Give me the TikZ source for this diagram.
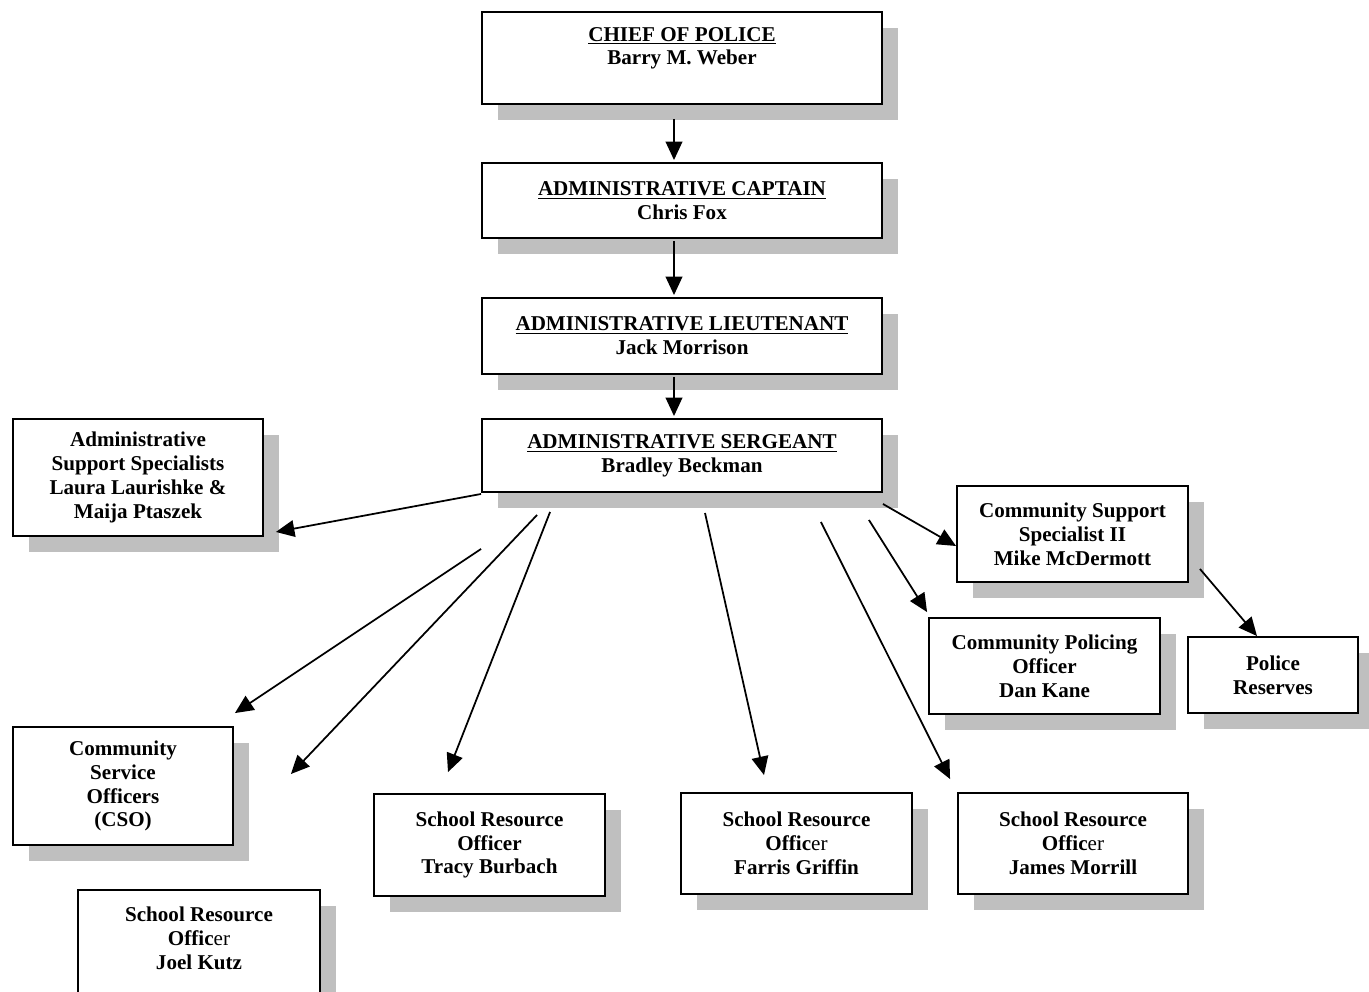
\documentclass[tikz,border=0pt]{standalone}
\usepackage{fontspec}
\setmainfont{Liberation Serif}
\usepackage{tikz}
\usetikzlibrary{arrows.meta,positioning,shadows}

\begin{document}
\begin{tikzpicture}[
    x=0.02cm, y=-0.02cm,
    every node/.style={font=\fontsize{12}{13.6}\selectfont\bfseries},
    unit/.style={rectangle, draw, line width=1.1pt, fill=white, inner sep=0pt, align=center,
        drop shadow={shadow xshift=0.32cm, shadow yshift=-0.32cm, fill=black!25, opacity=1}},
    wide/.style={unit, minimum width=8cm},
    arrow/.style={-{Triangle[length=10.5pt,width=9.5pt]}, line width=1pt}
]
\useasboundingbox (0,0) rectangle (1369,991);

% Chain of command
\node[wide, minimum height=1.84cm] (chief) at (682,58) {\underline{CHIEF OF POLICE}\\Barry M. Weber\\\mbox{}};
\node[wide, minimum height=1.5cm] (captain) at (682,200.5) {\underline{ADMINISTRATIVE CAPTAIN}\\Chris Fox};
\node[wide, minimum height=1.52cm] (lieutenant) at (682,336) {\underline{ADMINISTRATIVE LIEUTENANT}\\Jack Morrison};
\node[wide, minimum height=1.46cm] (sergeant) at (682,455.5) {\underline{ADMINISTRATIVE SERGEANT}\\Bradley Beckman};

% Units under the sergeant
\node[unit, minimum width=5cm, minimum height=2.34cm] (admin_support) at (138,477.5) {Administrative\\Support Specialists\\Laura Laurishke \&\\Maija Ptaszek};
\node[unit, minimum width=4.62cm, minimum height=1.92cm] (community_support) at (1072.5,534) {Community Support\\Specialist II\\Mike McDermott};
\node[unit, minimum width=4.62cm, minimum height=1.92cm] (community_policing) at (1044.5,666) {Community Policing\\Officer\\Dan Kane};
\node[unit, minimum width=3.4cm, minimum height=1.52cm] (reserves) at (1273,675) {Police\\Reserves};
\node[unit, minimum width=4.4cm, minimum height=2.36cm] (cso) at (123,786) {Community\\Service\\Officers\\(CSO)};

% School resource officers
\node[unit, minimum width=4.62cm, minimum height=2.04cm] (sro_burbach) at (489.5,845) {School Resource\\Officer\\Tracy Burbach};
\node[unit, minimum width=4.62cm, minimum height=2.02cm] (sro_griffin) at (796.5,843.5) {School Resource\\Offic{\mdseries er}\\Farris Griffin};
\node[unit, minimum width=4.6cm, minimum height=2.02cm] (sro_morrill) at (1073,843.5) {School Resource\\Offic{\mdseries er}\\James Morrill};
\node[unit, minimum width=4.84cm, minimum height=2.4cm] (sro_kutz) at (199,950) {School Resource\\Offic{\mdseries er}\\Joel Kutz\\\mbox{}};

% Chain arrows
\draw[arrow] ([shift={(-8,14)}]chief.south) -- ([shift={(-8,-2)}]captain.north);
\draw[arrow] ([shift={(-8,2)}]captain.south) -- ([shift={(-8,-2)}]lieutenant.north);
\draw[arrow] ([shift={(-8,2)}]lieutenant.south) -- ([shift={(-8,-2)}]sergeant.north);

% Sergeant to units
\draw[arrow] ([shift={(0,1)}]sergeant.south west) -- ([shift={(12,-5)}]admin_support.south east);
\draw[arrow] ([shift={(0,56)}]sergeant.south west) -- ([shift={(1,-13)}]cso.north east);
\draw[arrow] ([shift={(56,22)}]sergeant.south west) -- ([shift={(57,-12)}]cso.east);
\draw[arrow] ([shift={(69,19)}]sergeant.south west) -- ([shift={(-41.5,-21)}]sro_burbach.north);
\draw[arrow] ([shift={(23,20)}]sergeant.south) -- ([shift={(-32.5,-17)}]sro_griffin.north);
\draw[arrow] ([shift={(-62,29)}]sergeant.south east) -- ([shift={(-7,-13)}]sro_morrill.north west);
\draw[arrow] ([shift={(-14,27)}]sergeant.south east) -- ([shift={(-1,-5)}]community_policing.north west);
\draw[arrow] ([shift={(0,11)}]sergeant.south east) -- ([shift={(0,12)}]community_support.west);
\draw[arrow] ([shift={(11,-14)}]community_support.south east) -- ([shift={(-16,0)}]reserves.north);

\end{tikzpicture}
\end{document}
